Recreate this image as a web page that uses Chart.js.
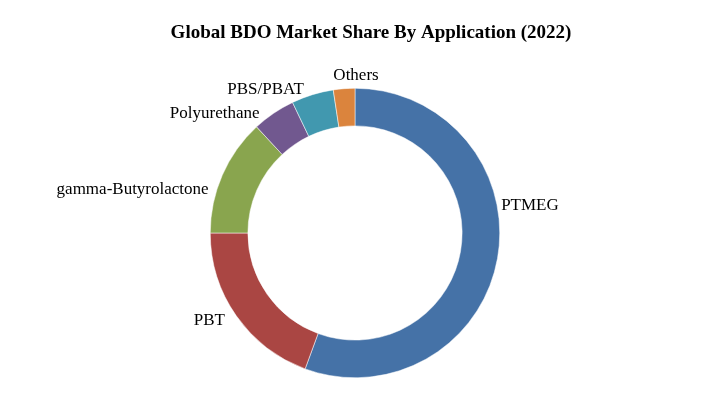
<!DOCTYPE html>
<html>
<head>
<meta charset="utf-8">
<script src="https://cdn.jsdelivr.net/npm/chart.js@4.4.1/dist/chart.umd.min.js"></script>
<style>
  html, body { margin: 0; padding: 0; background: #fff; }
  #wrap { width: 720px; height: 396px; position: relative; }
</style>
</head>
<body>
<div id="wrap"><canvas id="bdoChart"></canvas></div>
<script>
const chartTitle = "Global BDO Market Share By Application (2022)";
const applications = ["PTMEG", "PBT", "gamma-Butyrolactone", "Polyurethane", "PBS/PBAT", "Others"];
const shares = [55.6, 19.4, 13.1, 4.8, 4.7, 2.4];
const sliceColors = ["#4572A7", "#AA4643", "#89A54E", "#71588F", "#4198AF", "#DB843D"];
// small angle nudges (degrees) so labels sit where the original put them
const labelNudge = [-20.8, 1, -7, -4.5, -2.5, 4.7];
const labelGap = [4, 12, 8, 8, 8, 8];

const serif = "'Liberation Serif', 'Times New Roman', serif";

// draws the title and the outside labels
const labelPlugin = {
  id: "outsideLabels",
  afterDraw(chart) {
    const ctx = chart.ctx;
    ctx.save();
    ctx.fillStyle = "#000";
    ctx.font = "bold 19px " + serif;
    ctx.textAlign = "center";
    ctx.textBaseline = "middle";
    ctx.fillText(chartTitle, 371, 33);

    ctx.font = "17px " + serif;
    const arcs = chart.getDatasetMeta(0).data;
    arcs.forEach((arc, i) => {
      const p = arc.getProps(["x", "y", "startAngle", "endAngle", "outerRadius"], true);
      const mid = (p.startAngle + p.endAngle) / 2 + labelNudge[i] * Math.PI / 180;
      const r = p.outerRadius + labelGap[i];
      const x = p.x + Math.cos(mid) * r;
      const y = p.y + Math.sin(mid) * r;
      const c = Math.cos(mid);
      if (Math.abs(c) < 0.15) {
        ctx.textAlign = "center";
        ctx.textBaseline = Math.sin(mid) < 0 ? "alphabetic" : "top";
      } else {
        ctx.textAlign = c > 0 ? "left" : "right";
        ctx.textBaseline = "middle";
      }
      ctx.fillText(applications[i], x, y);
    });
    ctx.restore();
  }
};

new Chart(document.getElementById("bdoChart"), {
  type: "doughnut",
  data: {
    labels: applications,
    datasets: [{
      data: shares,
      backgroundColor: sliceColors,
      borderColor: "#ffffff",
      borderWidth: 0.5,
      hoverOffset: 0
    }]
  },
  options: {
    responsive: true,
    maintainAspectRatio: false,
    animation: false,
    cutout: "74%",
    layout: { padding: { top: 88, bottom: 18, left: 210, right: 220 } },
    plugins: {
      legend: { display: false },
      tooltip: { enabled: false },
      title: { display: false }
    }
  },
  plugins: [labelPlugin]
});
</script>
</body>
</html>
